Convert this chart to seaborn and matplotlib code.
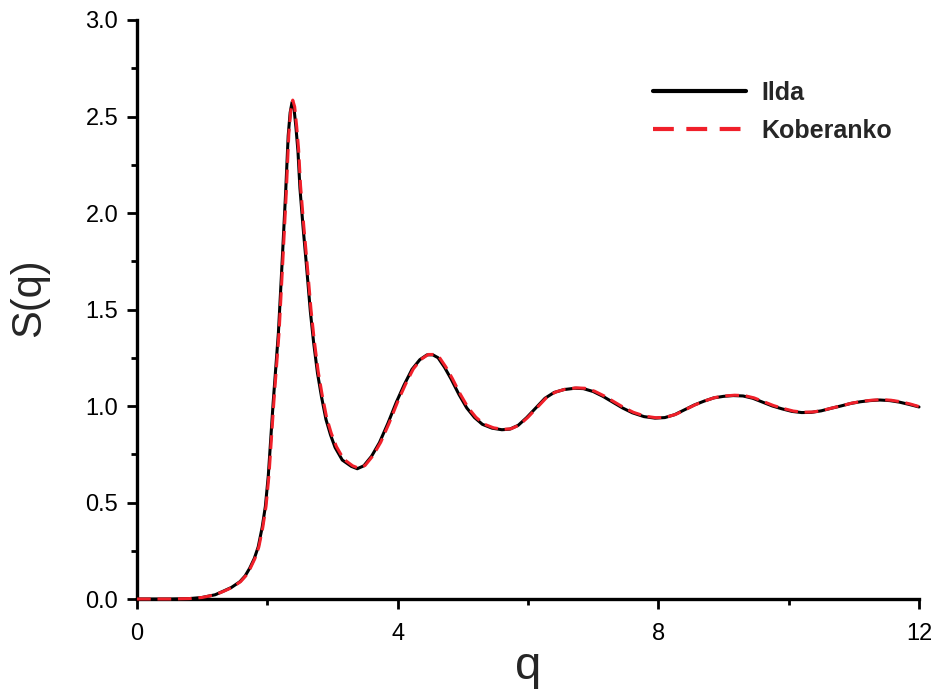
import numpy as np
import pandas as pd
import matplotlib
matplotlib.use("Agg")
import matplotlib.pyplot as plt
from matplotlib.ticker import MultipleLocator
import seaborn as sns

# ---- data ----
q_ilda = [0.0, 0.5, 0.8, 1.0, 1.1, 1.2, 1.32, 1.45, 1.58, 1.66, 1.73, 1.80, 1.86, 1.92, 1.97,
          2.015, 2.09, 2.17, 2.22, 2.28, 2.32, 2.35, 2.38, 2.41, 2.44, 2.47, 2.50, 2.55, 2.60,
          2.66, 2.71, 2.77, 2.83, 2.90, 2.97, 3.04, 3.15, 3.29, 3.38, 3.48, 3.60, 3.72, 3.85,
          3.98, 4.10, 4.22, 4.34, 4.45, 4.54, 4.62, 4.72, 4.82, 4.94, 5.06, 5.18, 5.30, 5.45,
          5.60, 5.72, 5.85, 5.98, 6.12, 6.26, 6.40, 6.55, 6.72, 6.85, 7.00, 7.15, 7.30, 7.45,
          7.60, 7.78, 7.95, 8.10, 8.25, 8.40, 8.55, 8.70, 8.85, 9.00, 9.15, 9.30, 9.45, 9.60,
          9.75, 9.90, 10.05, 10.20, 10.35, 10.50, 10.65, 10.80, 10.95, 11.10, 11.25, 11.40,
          11.55, 11.70, 11.85, 12.0]
s_ilda = [0.0, 0.0, 0.002, 0.008, 0.015, 0.022, 0.04, 0.06, 0.09, 0.12, 0.16, 0.21, 0.27, 0.37, 0.48,
          0.64, 1.02, 1.38, 1.70, 2.10, 2.40, 2.52, 2.575, 2.54, 2.44, 2.32, 2.13, 1.92, 1.73,
          1.49, 1.33, 1.17, 1.05, 0.93, 0.85, 0.785, 0.72, 0.687, 0.675, 0.69, 0.74, 0.81, 0.91,
          1.02, 1.11, 1.19, 1.24, 1.265, 1.265, 1.25, 1.20, 1.14, 1.06, 0.99, 0.94, 0.905, 0.885,
          0.877, 0.88, 0.90, 0.94, 0.99, 1.04, 1.07, 1.085, 1.092, 1.09, 1.075, 1.05, 1.02, 0.99,
          0.965, 0.945, 0.937, 0.94, 0.955, 0.98, 1.005, 1.025, 1.042, 1.05, 1.054, 1.052, 1.04, 1.02,
          1.00, 0.985, 0.972, 0.966, 0.967, 0.975, 0.988, 1.00, 1.013, 1.022, 1.028, 1.031,
          1.028, 1.02, 1.008, 0.995]

q_kob = [0.0, 0.5, 0.8, 1.0, 1.1, 1.2, 1.33, 1.46, 1.59, 1.67, 1.74, 1.81, 1.87, 1.93, 1.98,
         2.025, 2.10, 2.18, 2.23, 2.29, 2.33, 2.36, 2.39, 2.42, 2.45, 2.48, 2.51, 2.56, 2.61,
         2.67, 2.72, 2.78, 2.84, 2.91, 2.98, 3.06, 3.17, 3.31, 3.40, 3.50, 3.62, 3.74, 3.87,
         4.00, 4.12, 4.24, 4.36, 4.47, 4.56, 4.64, 4.74, 4.84, 4.96, 5.08, 5.20, 5.32, 5.47,
         5.62, 5.74, 5.87, 6.00, 6.14, 6.28, 6.42, 6.57, 6.74, 6.87, 7.02, 7.17, 7.32, 7.47,
         7.62, 7.80, 7.97, 8.12, 8.27, 8.42, 8.57, 8.72, 8.87, 9.02, 9.17, 9.32, 9.47, 9.62,
         9.77, 9.92, 10.07, 10.22, 10.37, 10.52, 10.67, 10.82, 10.97, 11.12, 11.27, 11.42,
         11.57, 11.72, 11.87, 12.0]
s_kob = [0.0, 0.0, 0.002, 0.008, 0.015, 0.022, 0.04, 0.06, 0.09, 0.12, 0.16, 0.21, 0.27, 0.37, 0.48,
         0.64, 1.02, 1.38, 1.70, 2.10, 2.41, 2.53, 2.585, 2.55, 2.45, 2.33, 2.14, 1.93, 1.74,
         1.50, 1.34, 1.18, 1.06, 0.94, 0.86, 0.79, 0.725, 0.69, 0.678, 0.692, 0.742, 0.812, 0.912,
         1.022, 1.112, 1.192, 1.242, 1.267, 1.267, 1.252, 1.202, 1.142, 1.062, 0.992, 0.942, 0.907, 0.887,
         0.879, 0.882, 0.902, 0.942, 0.992, 1.042, 1.072, 1.087, 1.094, 1.092, 1.077, 1.052, 1.022, 0.992,
         0.967, 0.947, 0.939, 0.942, 0.957, 0.982, 1.007, 1.027, 1.044, 1.052, 1.056, 1.054, 1.042, 1.022,
         1.002, 0.987, 0.974, 0.968, 0.969, 0.977, 0.990, 1.002, 1.015, 1.024, 1.030, 1.033,
         1.030, 1.022, 1.010, 0.997]

x_ticks = [0, 4, 8, 12]
y_ticks = [0.0, 0.5, 1.0, 1.5, 2.0, 2.5, 3.0]
series_names = ["Ilda", "Koberanko"]

# ---- style ----
sns.set_style("ticks")
plt.rcParams["font.family"] = ["Liberation Sans", "DejaVu Sans"]

df = pd.concat([
    pd.DataFrame({"q": q_ilda, "S": s_ilda, "model": series_names[0]}),
    pd.DataFrame({"q": q_kob, "S": s_kob, "model": series_names[1]}),
], ignore_index=True)

fig = plt.figure(figsize=(9.41, 6.92), dpi=100)
ax = fig.add_axes([137 / 941, 1 - 599 / 692, (919 - 137) / 941, (599 - 20) / 692])

sns.lineplot(data=df, x="q", y="S", hue="model", style="model",
             palette={"Ilda": "black", "Koberanko": "#f0202a"},
             dashes={"Ilda": "", "Koberanko": (4.5, 2.2)},
             linewidth=2.2, sort=False, estimator=None, ax=ax, legend=True)

for ln in ax.get_lines():
    ln.set_clip_on(False)
    ln.set_zorder(5)

ax.set_xlim(0, 12)
ax.set_ylim(0, 3.0)
ax.set_xticks(x_ticks)
ax.set_yticks(y_ticks)
ax.xaxis.set_minor_locator(MultipleLocator(2))
ax.yaxis.set_minor_locator(MultipleLocator(0.25))
ax.set_yticklabels([f"{v:.1f}" for v in y_ticks])

sns.despine(ax=ax, top=True, right=True)
for side in ["left", "bottom"]:
    ax.spines[side].set_linewidth(2.4)
    ax.spines[side].set_color("black")

ax.tick_params(axis="both", which="major", direction="out", length=7.5, width=2,
               labelsize=17, colors="black")
ax.tick_params(axis="y", which="major", pad=6)
ax.tick_params(axis="x", which="major", pad=10, labelsize=17)
ax.tick_params(axis="both", which="minor", direction="out", length=4, width=2, colors="black")

ax.set_xlabel("q", fontsize=34, labelpad=0)
ax.set_ylabel("S(q)", fontsize=30)
ax.yaxis.set_label_coords(-0.112, 0.52)

handles, labels = ax.get_legend_handles_labels()
leg = ax.legend(handles, labels, loc="upper left",
                bbox_to_anchor=(653 / 941, 1 - 81 / 692), bbox_transform=fig.transFigure,
                frameon=False, handlelength=3.7, handletextpad=0.65, labelspacing=0.55,
                borderpad=0, borderaxespad=0,
                prop={"weight": "bold", "size": 18})
for lh, name in zip(leg.get_lines(), leg.get_texts()):
    lh.set_linewidth(3)
    if name.get_text() == "Koberanko":
        lh.set_dashes([5, 3])

fig.savefig("out.png", dpi=100)
